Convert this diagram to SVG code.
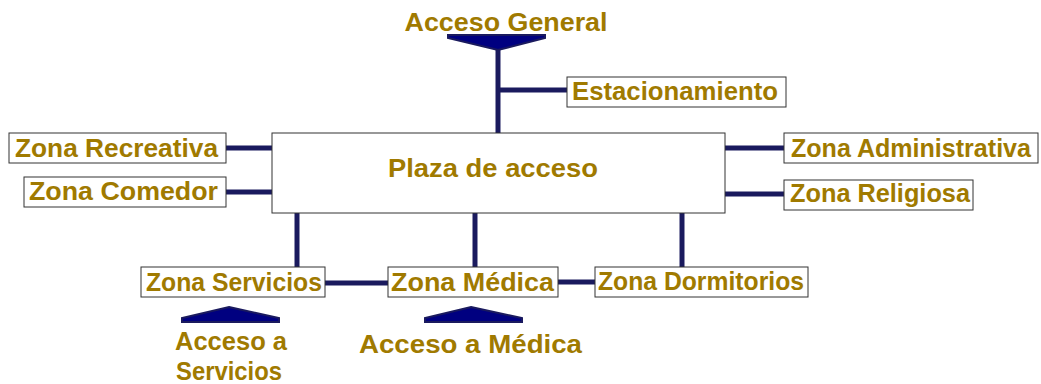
<svg xmlns="http://www.w3.org/2000/svg" width="1041" height="384" viewBox="0 0 1041 384">
<style>
.box{fill:#fff;stroke:#333;stroke-width:1}
.t{font-family:"Liberation Sans","DejaVu Sans",sans-serif;font-weight:bold;font-size:25px;fill:#A07A00}
.c{stroke:#1a1a5e;stroke-width:5;fill:none}
.tri{fill:#000080;stroke:#1a1a5e;stroke-width:2;stroke-linejoin:miter}
</style>
<rect width="1041" height="384" fill="#fff"/>
<g id="connectors">
<line class="c" x1="498" y1="46" x2="498" y2="133"/>
<line class="c" x1="498" y1="90" x2="567" y2="90"/>
<line class="c" x1="226" y1="148" x2="272" y2="148"/>
<line class="c" x1="226" y1="192" x2="272" y2="192"/>
<line class="c" x1="725" y1="148" x2="784" y2="148"/>
<line class="c" x1="725" y1="194" x2="784" y2="194"/>
<line class="c" x1="297" y1="213" x2="297" y2="267"/>
<line class="c" x1="475" y1="213" x2="475" y2="267"/>
<line class="c" x1="682" y1="213" x2="682" y2="267"/>
<line class="c" x1="325" y1="283" x2="388" y2="283"/>
<line class="c" x1="558" y1="282" x2="595" y2="282"/>
</g>
<g id="acceso-general">
<polygon class="tri" points="448,35 545,35 545,38 498,50 448,38"/>
<text class="t" x="506" y="31" text-anchor="middle" textLength="203" lengthAdjust="spacingAndGlyphs">Acceso General</text>
</g>
<g id="estacionamiento">
<rect class="box" x="567" y="77" width="219" height="30"/>
<text class="t" x="675" y="100" text-anchor="middle" textLength="206" lengthAdjust="spacingAndGlyphs">Estacionamiento</text>
</g>
<g id="plaza">
<rect class="box" x="272" y="133" width="453" height="80"/>
<text class="t" x="493" y="177" text-anchor="middle" textLength="210" lengthAdjust="spacingAndGlyphs">Plaza de acceso</text>
</g>
<g id="recreativa">
<rect class="box" x="9" y="133" width="217" height="30"/>
<text class="t" x="116.5" y="157" text-anchor="middle" textLength="203" lengthAdjust="spacingAndGlyphs">Zona Recreativa</text>
</g>
<g id="comedor">
<rect class="box" x="24" y="177" width="202" height="30"/>
<text class="t" x="123.5" y="200" text-anchor="middle" textLength="189" lengthAdjust="spacingAndGlyphs">Zona Comedor</text>
</g>
<g id="administrativa">
<rect class="box" x="784" y="133" width="254" height="30"/>
<text class="t" x="911" y="157" text-anchor="middle" textLength="240" lengthAdjust="spacingAndGlyphs">Zona Administrativa</text>
</g>
<g id="religiosa">
<rect class="box" x="784" y="180" width="189" height="30"/>
<text class="t" x="880" y="202" text-anchor="middle" textLength="180" lengthAdjust="spacingAndGlyphs">Zona Religiosa</text>
</g>
<g id="servicios">
<rect class="box" x="141" y="267" width="184" height="30"/>
<text class="t" x="234" y="291" text-anchor="middle" textLength="176" lengthAdjust="spacingAndGlyphs">Zona Servicios</text>
</g>
<g id="medica">
<rect class="box" x="388" y="267" width="170" height="30"/>
<text class="t" x="472.5" y="291" text-anchor="middle" textLength="163" lengthAdjust="spacingAndGlyphs">Zona Médica</text>
</g>
<g id="dormitorios">
<rect class="box" x="595" y="267" width="213" height="30"/>
<text class="t" x="701" y="290" text-anchor="middle" textLength="206" lengthAdjust="spacingAndGlyphs">Zona Dormitorios</text>
</g>
<g id="acceso-servicios">
<polygon class="tri" points="229,307 279,318 279,322 182,322 182,318"/>
<text class="t" x="231" y="350" text-anchor="middle" textLength="112" lengthAdjust="spacingAndGlyphs">Acceso a</text>
<text class="t" x="229" y="380" text-anchor="middle" textLength="106" lengthAdjust="spacingAndGlyphs">Servicios</text>
</g>
<g id="acceso-medica">
<polygon class="tri" points="471,307 522,318 522,322 425,322 425,318"/>
<text class="t" x="470.5" y="353" text-anchor="middle" textLength="223" lengthAdjust="spacingAndGlyphs">Acceso a Médica</text>
</g>
</svg>
